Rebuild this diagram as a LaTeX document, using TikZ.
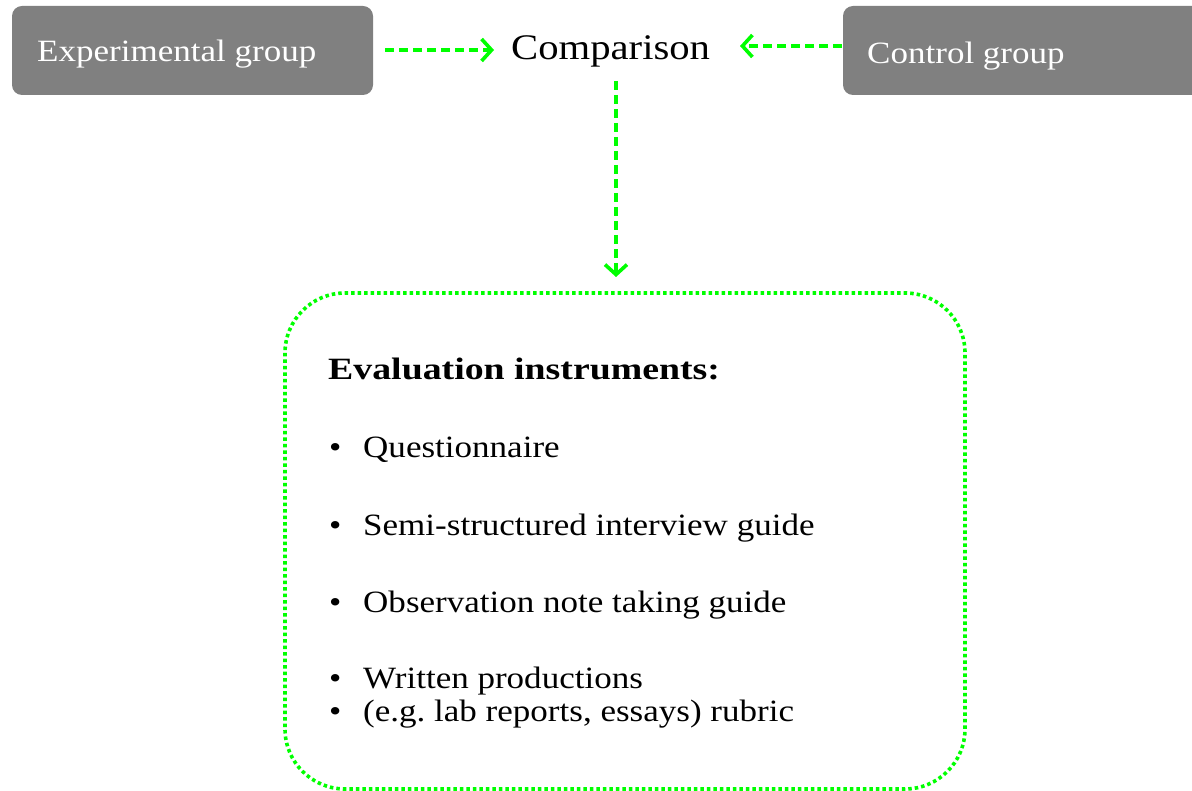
\documentclass[tikz,border=0pt]{standalone}
\usepackage{fontspec}
\setmainfont{Liberation Serif}[FakeStretch=1.13, BoldFeatures={FakeStretch=1.22}]
\usetikzlibrary{arrows.meta}
\definecolor{boxgray}{RGB}{128,128,128}
\definecolor{lgreen}{RGB}{0,255,0}
\frenchspacing
\tikzset{
  grpbox/.style={fill=boxgray, draw=none, rounded corners=10pt},
  grptext/.style={anchor=base west, text=white, font=\fontsize{31}{36}\selectfont, inner sep=0pt},
  bodytext/.style={anchor=base west, font=\fontsize{31}{36}\selectfont, inner sep=0pt},
  conn/.style={draw=lgreen, line width=3.6pt, dash pattern=on 9pt off 5pt, -{Straight Barb[length=10pt,width=22pt,line width=3.6pt]}},
  evalbox/.style={draw=lgreen, line width=3.6pt, dash pattern=on 3.5pt off 3pt, rounded corners=60pt}
}
\begin{document}
\begin{tikzpicture}[x=1pt,y=-1pt]
\useasboundingbox (0,0) rectangle (1192,791);
% group boxes
\path[grpbox] (12,6) rectangle (373,95);
\path[grpbox] (843,6) rectangle (1210,95);
\node[grptext] (exp) at (37,62) {Experimental group};
\node[grptext] (ctl) at (867,64) {Control group};
\coordinate (expR) at (385,50);
\coordinate (ctlL) at (842,46);
\node[anchor=base west, inner sep=0pt, font=\fontsize{36}{40}\selectfont] (cmp) at (511,60) {Comparison};
\coordinate (cmpL) at (494,50);
\coordinate (cmpR) at (740,46);
\coordinate (cmpB) at (616,81);
\coordinate (evT) at (616,277);
\draw[conn] (expR) -- (cmpL);
\draw[conn] (ctlL) -- (cmpR);
\draw[conn] (cmpB) -- (evT);
% evaluation box
\draw[evalbox] (285,293) rectangle (965,789);
\node[bodytext, font=\fontsize{31}{36}\selectfont\bfseries] (hd) at (328,380) {Evaluation instruments:};
\foreach \y/\t [count=\i] in {458/Questionnaire, 535/Semi-structured interview guide, 612/Observation note taking guide, 688/Written productions, 721/(e.g. lab reports{,} essays) rubric}{
  \node[bodytext] (b\i) at (329,\y) {\textbullet};
  \node[bodytext] (t\i) at (363,\y) {\t};
}
\end{tikzpicture}
\end{document}
